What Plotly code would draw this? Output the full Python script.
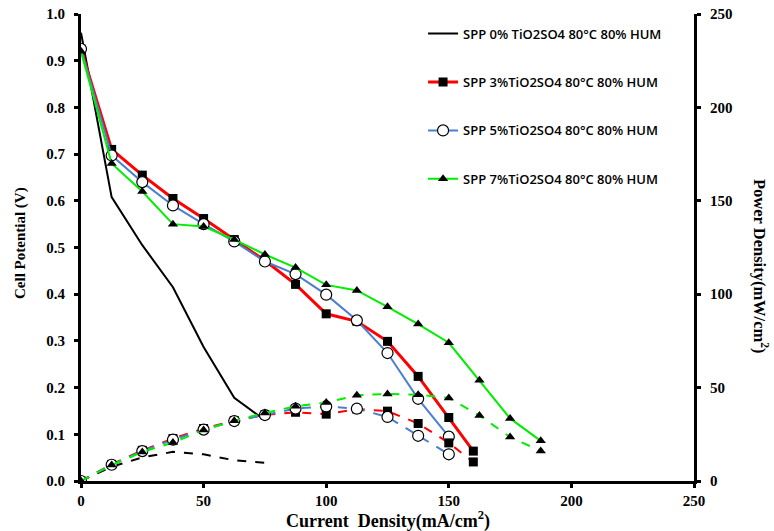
import plotly.graph_objects as go

# Current density (mA/cm2) for each membrane
i_0 = [0, 12.5, 25, 37.5, 50, 62.5, 75]
i_3 = [0, 12.5, 25, 37.5, 50, 62.5, 75, 87.5, 100, 112.5, 125, 137.5, 150, 160]
i_5 = [0, 12.5, 25, 37.5, 50, 62.5, 75, 87.5, 100, 112.5, 125, 137.5, 150]
i_7 = [0, 12.5, 25, 37.5, 50, 62.5, 75, 87.5, 100, 112.5, 125, 137.5, 150, 162.5, 175, 187.5]

# Cell potential (V)
v_0 = [0.96, 0.608, 0.505, 0.415, 0.287, 0.178, 0.13]
v_3 = [0.925, 0.71, 0.655, 0.605, 0.562, 0.517, 0.472, 0.421, 0.358, 0.342, 0.299, 0.224, 0.136, 0.064]
v_5 = [0.925, 0.697, 0.64, 0.59, 0.55, 0.513, 0.47, 0.443, 0.399, 0.344, 0.274, 0.176, 0.095]
v_7 = [0.92, 0.68, 0.62, 0.55, 0.545, 0.517, 0.485, 0.457, 0.42, 0.408, 0.373, 0.336, 0.296, 0.216, 0.134, 0.086]

# Power density (mW/cm2)
p_0 = [0, 7.6, 12.6, 15.6, 14.3, 11.1, 9.7]
p_3 = [0, 8.9, 16.4, 22.7, 28.1, 32.3, 35.4, 36.8, 35.8, 38.5, 37.4, 30.8, 20.4, 10.2]
p_5 = [0, 8.7, 16.0, 22.1, 27.5, 32.1, 35.3, 38.8, 39.9, 38.7, 34.3, 24.2, 14.3]
p_7 = [0, 8.5, 15.5, 20.6, 27.3, 32.3, 36.4, 40.0, 42.0, 45.9, 46.6, 46.2, 44.4, 35.1, 23.5, 16.1]

names = [
    "SPP 0% TiO2SO4 80°C 80% HUM",
    "SPP 3%TiO2SO4 80°C 80% HUM",
    "SPP 5%TiO2SO4 80°C 80% HUM",
    "SPP 7%TiO2SO4 80°C 80% HUM",
]

series = [
    (i_0, v_0, p_0, "#000000", 2, None),
    (i_3, v_3, p_3, "#ff0000", 3, dict(symbol="square", size=9, color="black")),
    (i_5, v_5, p_5, "#4a7fd0", 2, dict(symbol="circle", size=11, color="white",
                                       line=dict(color="black", width=1.2))),
    (i_7, v_7, p_7, "#00ee00", 2, dict(symbol="triangle-up", size=9, color="black")),
]

fig = go.Figure()

# polarisation curves (left axis)
for k, (x, v, p, col, w, mk) in enumerate(series):
    mode = "lines" if mk is None else "lines+markers"
    fig.add_trace(go.Scatter(
        x=x, y=v, name=names[k], mode=mode, legendgroup=f"g{k}",
        line=dict(color=col, width=w), marker=mk, yaxis="y",
    ))
# power density curves (right axis), dashed
for k, (x, v, p, col, w, mk) in enumerate(series):
    mode = "lines" if mk is None else "lines+markers"
    fig.add_trace(go.Scatter(
        x=x, y=p, mode=mode, showlegend=False, legendgroup=f"g{k}",
        line=dict(color=col, width=2, dash="dash"), marker=mk, yaxis="y2",
    ))

tick_font = dict(family="Liberation Serif", size=15, color="black", weight="bold")
xtitle_font = dict(family="Liberation Serif", size=18, color="black", weight="bold")
ltitle_font = dict(family="Liberation Serif", size=15, color="black", weight="bold")
rtitle_font = dict(family="Liberation Serif", size=16.5, color="black", weight="bold")

axis_common = dict(
    showgrid=False, zeroline=False, showline=True, linewidth=3, linecolor="black",
    ticks="outside", ticklen=4, tickwidth=3, tickcolor="black",
    tickfont=tick_font, automargin=False,
)

fig.update_layout(
    width=774, height=531,
    margin=dict(l=81, r=80, t=14, b=50),
    paper_bgcolor="white", plot_bgcolor="white",
    xaxis=dict(
        range=[0, 250], tickvals=[0, 50, 100, 150, 200, 250],
        ticklabelstandoff=0,
        **axis_common,
    ),
    yaxis=dict(
        range=[0, 1.0], tickvals=[0, 0.1, 0.2, 0.3, 0.4, 0.5, 0.6, 0.7, 0.8, 0.9, 1.0],
        tickformat=".1f", ticklabelstandoff=6,
        **axis_common,
    ),
    yaxis2=dict(
        range=[0, 250], tickvals=[0, 50, 100, 150, 200, 250],
        overlaying="y", side="right", ticklabelstandoff=6,
        **axis_common,
    ),
    legend=dict(
        x=0.558, y=0.99, xanchor="left", yanchor="top",
        bgcolor="rgba(255,255,255,0)",
        font=dict(family="Open Sans", size=13, color="black", weight=600),
        tracegroupgap=28.5, itemwidth=30,
    ),
    annotations=[
        dict(
            text="Current  Density(mA/cm<sup>2</sup>)",
            xref="paper", yref="paper", x=0.5, y=-(520 - 481) / 467,
            xanchor="center", yanchor="middle", showarrow=False,
            font=xtitle_font,
        ),
        dict(
            text="Cell Potential (V)", textangle=-90,
            xref="paper", yref="paper", x=(20 - 81) / 613, y=(481 - 243) / 467,
            xanchor="center", yanchor="middle", showarrow=False,
            font=ltitle_font,
        ),
        dict(
            text="Power Density(mW/cm<sup>2</sup>)", textangle=90,
            xref="paper", yref="paper", x=(761 - 81) / 613, y=(481 - 266) / 467,
            xanchor="center", yanchor="middle", showarrow=False,
            font=rtitle_font,
        ),
    ],
)

fig.write_html("out.html")
